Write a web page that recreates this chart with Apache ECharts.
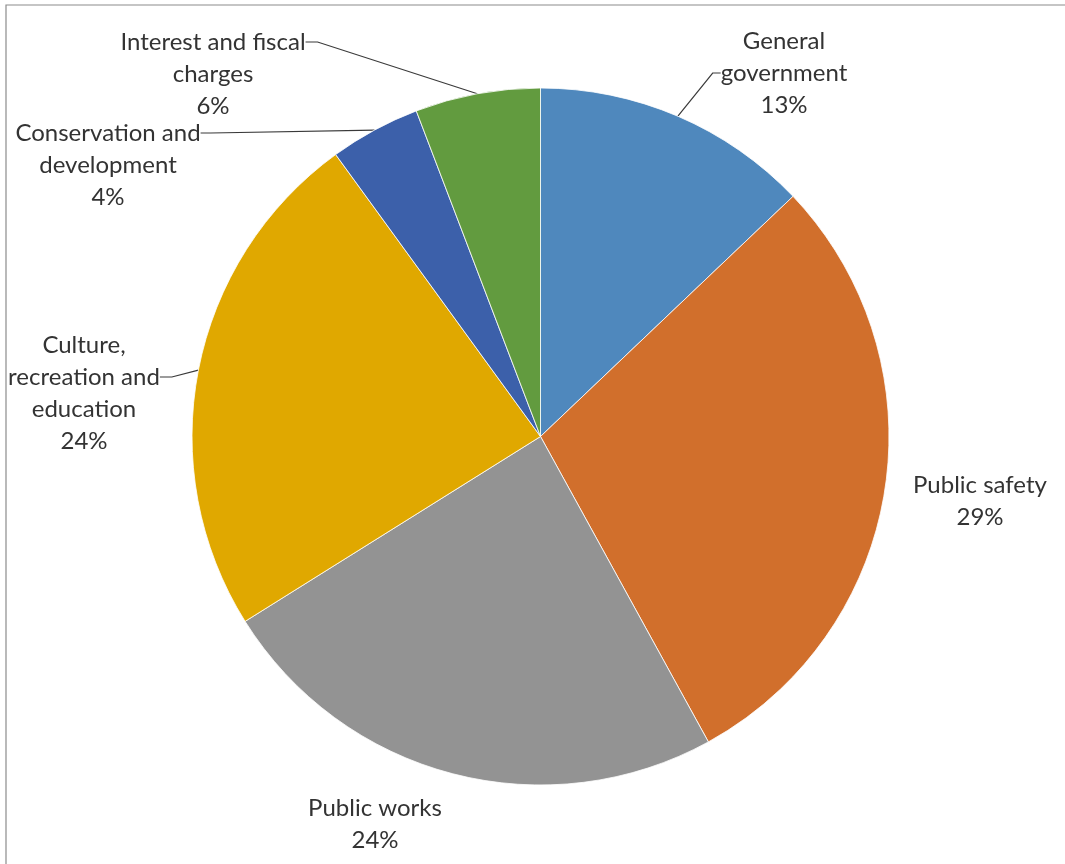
<!DOCTYPE html>
<html>
<head>
<meta charset="utf-8">
<script src="https://cdn.jsdelivr.net/npm/echarts@6/dist/echarts.min.js"></script>
<style>
html,body{margin:0;padding:0;background:#fff;}
#chart{width:1065px;height:864px;}
</style>
</head>
<body>
<div id="chart"></div>
<script>
const categories = ['General\ngovernment', 'Public safety', 'Public works', 'Culture,\nrecreation and\neducation', 'Conservation and\ndevelopment', 'Interest and fiscal\ncharges'];
const values = [12.9, 29.1, 24.1, 23.9, 4.2, 5.8];
const colors = ['#4f88bd', '#d16f2c', '#939393', '#e0a800', '#3c60aa', '#629b3f'];
const showLeader = [true, false, false, true, true, true];
// label anchor positions (centre of label box)
const labelPos = [[784, 73], [980, 501], [375, 824], [84, 377], [108, 133], [213, 42]];
// blank lines added above a label so its leader line meets the right text line
const blankLinesAbove = [0, 0, 0, 1, 2, 2];
const leaderLen2 = [8, 0, 0, 12, 10, 12];

const chart = echarts.init(document.getElementById('chart'));
chart.setOption({
  animation: false,
  backgroundColor: '#fff',
  graphic: [{
    type: 'rect',
    shape: { x: 6, y: 5, width: 1200, height: 1000 },
    style: { fill: 'none', stroke: '#8c8c8c', lineWidth: 1.2 },
    silent: true
  }],
  series: [{
    type: 'pie',
    center: [540.5, 436.5],
    radius: 348.5,
    startAngle: 90,
    clockwise: true,
    percentPrecision: 0,
    avoidLabelOverlap: false,
    itemStyle: { borderColor: '#ffffff', borderWidth: 0.8 },
    label: {
      show: true,
      formatter: function (p) {
        return '\n'.repeat(blankLinesAbove[p.dataIndex]) + p.name + '\n' + p.percent + '%';
      },
      fontFamily: 'Lato',
      fontSize: 24,
      lineHeight: 32,
      color: '#333333',
      align: 'center'
    },
    labelLine: {
      show: true,
      lineStyle: { color: '#3a3a3a', width: 1.2 }
    },
    labelLayout: function (params) {
      const p = labelPos[params.dataIndex];
      return { x: p[0], y: p[1], align: 'center', verticalAlign: 'middle' };
    },
    data: categories.map((c, i) => ({
      name: c,
      value: values[i],
      itemStyle: { color: colors[i] },
      labelLine: { show: showLeader[i], length2: leaderLen2[i] }
    }))
  }]
});
</script>
</body>
</html>
